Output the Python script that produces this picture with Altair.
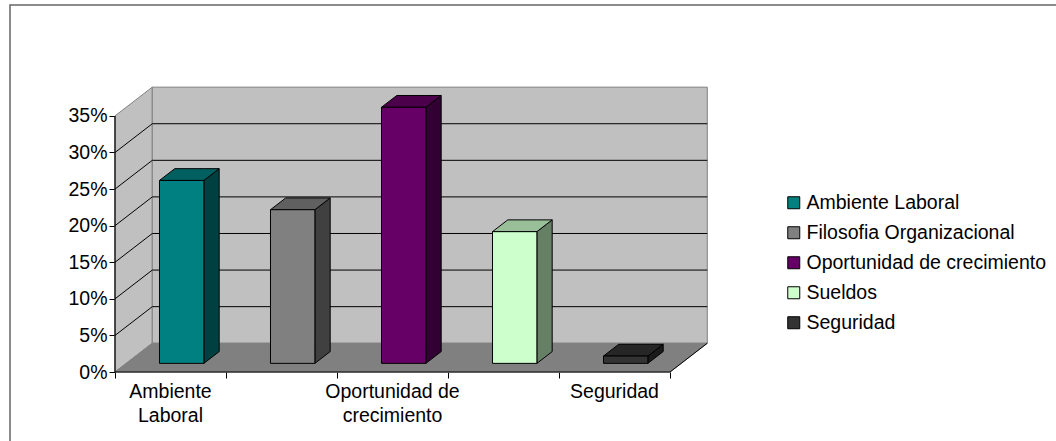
import altair as alt
import pandas as pd

# ---------------- data ----------------
categories = ["Ambiente Laboral", "Filosofia Organizacional",
              "Oportunidad de crecimiento", "Sueldos", "Seguridad"]
values = [25, 21, 35, 18, 1]
front_colors = ["#008080", "#808080", "#660066", "#CCFFCC", "#333333"]
top_colors = ["#006060", "#606060", "#4C004C", "#99BF99", "#262626"]
side_colors = ["#004040", "#404040", "#330033", "#668066", "#1A1A1A"]
tick_labels = ["Ambiente\nLaboral", "", "Oportunidad de\ncrecimiento", "", "Seguridad"]
y_ticks = [0, 5, 10, 15, 20, 25, 30, 35]

# ---------------- geometry / style ----------------
FONT = "Liberation Sans"
FS = 19.5
W, H = 593, 285
PX_PER_CAT = 111.0
PX_PER_PCT = 7.317
X_DOM = W / PX_PER_CAT
Y_DOM = H / PX_PER_PCT
DX = 0.336      # depth offset of the 3-D box (category units)
DY = 3.93       # depth offset of the 3-D box (percent units)
BW = 0.40       # bar width (category units)
T0, T1 = 0.30, 0.71   # bar front / back depth fraction
NCAT = len(categories)
YTOP = y_ticks[-1]

xs = alt.Scale(domain=[0, X_DOM], nice=False, zero=False)
ys = alt.Scale(domain=[0, Y_DOM], nice=False, zero=False)

y_axis = alt.Axis(values=y_ticks, labelExpr="datum.value + '%'", domain=False, grid=False,
                  ticks=True, tickSize=6, tickColor="black", tickWidth=1,
                  labelFontSize=FS, labelFont=FONT, labelColor="black", labelPadding=2,
                  labelOverlap=False, labelFlush=False, title=None)
x_axis = alt.Axis(values=list(range(NCAT + 1)), labels=False, domain=False, grid=False,
                  ticks=True, tickSize=6, tickColor="black", tickWidth=1, title=None)


def X(f):
    return alt.X(f, type="quantitative", scale=xs, axis=x_axis)


def Y(f):
    return alt.Y(f, type="quantitative", scale=ys, axis=y_axis)


# ---------------- derived tables ----------------
side_wall = pd.DataFrame({"pid": ["sw", "sw"], "x": [0, DX], "y": [0, DY],
                          "y2": [YTOP, YTOP + DY]})
floor = pd.DataFrame({"pid": ["fl"] * 4,
                      "x": [0, DX, NCAT, NCAT + DX],
                      "y": [0, 0, 0, DY],
                      "y2": [0, DY, DY, DY]})
back_wall = pd.DataFrame({"x": [DX], "x2": [NCAT + DX], "y": [DY], "y2": [YTOP + DY]})
grid_back = pd.DataFrame({"x": DX, "x2": NCAT + DX,
                          "y": [v + DY for v in y_ticks[1:-1]],
                          "y2": [v + DY for v in y_ticks[1:-1]]})
grid_side = pd.DataFrame({"x": 0.0, "x2": DX,
                          "y": [float(v) for v in y_ticks[1:-1]],
                          "y2": [v + DY for v in y_ticks[1:-1]]})

front_rows, top_rows, side_rows = [], [], []
ddx, ddy = (T1 - T0) * DX, (T1 - T0) * DY
for i, (c, v) in enumerate(zip(categories, values)):
    xl = i + 0.5 - BW / 2 + T0 * DX
    xr = xl + BW
    base = T0 * DY
    top = base + v
    front_rows.append({"cat": c, "x": xl, "x2": xr, "y": base, "y2": top})
    for xx, yy, yy2 in [(xl, top, top), (xl + ddx, top, top + ddy),
                        (xr, top, top + ddy), (xr + ddx, top + ddy, top + ddy)]:
        top_rows.append({"pid": f"t{i}", "fill": top_colors[i], "x": xx, "y": yy, "y2": yy2})
    for xx, yy, yy2 in [(xr, base, top), (xr + ddx, base + ddy, top + ddy)]:
        side_rows.append({"pid": f"s{i}", "fill": side_colors[i], "x": xx, "y": yy, "y2": yy2})
front_df = pd.DataFrame(front_rows)
top_df = pd.DataFrame(top_rows)
side_df = pd.DataFrame(side_rows)

label_df = pd.DataFrame({"x": [i + 0.5 for i in range(NCAT)], "y": 0.0,
                         "lab": tick_labels})
label_df = label_df[label_df["lab"] != ""]

axis_rules = pd.DataFrame({"x": [0.0, 0.0], "x2": [0.0, float(NCAT)],
                           "y": [0.0, 0.0], "y2": [float(YTOP), 0.0]})
floor_edge = pd.DataFrame({"x": [float(NCAT)], "x2": [NCAT + DX], "y": [0.0], "y2": [DY]})

# ---------------- layers ----------------
l_back = alt.Chart(back_wall).mark_rect(fill="#C0C0C0", stroke="#808080", strokeWidth=1).encode(
    x=X("x"), x2="x2", y=Y("y"), y2="y2")

l_side = alt.Chart(side_wall).mark_area(orient="vertical", fill="#C0C0C0", stroke="#808080",
                                        strokeWidth=1).encode(
    x=X("x"), y=Y("y"), y2="y2", detail="pid:N")

l_floor = alt.Chart(floor).mark_area(orient="vertical", fill="#808080", stroke="#808080",
                                     strokeWidth=1).encode(
    x=X("x"), y=Y("y"), y2="y2", detail="pid:N")

l_gb = alt.Chart(grid_back).mark_rule(color="black", strokeWidth=1).encode(
    x=X("x"), x2="x2", y=Y("y"), y2="y2")
l_gs = alt.Chart(grid_side).mark_rule(color="black", strokeWidth=1).encode(
    x=X("x"), x2="x2", y=Y("y"), y2="y2")

l_sidef = alt.Chart(side_df).mark_area(orient="vertical", stroke="black", strokeWidth=1,
                                       fillOpacity=1).encode(
    x=X("x"), y=Y("y"), y2="y2", detail="pid:N", fill=alt.Fill("fill:N", scale=None))
l_topf = alt.Chart(top_df).mark_area(orient="vertical", stroke="black", strokeWidth=1,
                                     fillOpacity=1).encode(
    x=X("x"), y=Y("y"), y2="y2", detail="pid:N", fill=alt.Fill("fill:N", scale=None))

legend = alt.Legend(title=None, orient="none", legendX=669, legendY=106, padding=0,
                    symbolType="square", symbolSize=144, symbolStrokeColor="black",
                    symbolStrokeWidth=1, symbolOpacity=1, labelFontSize=FS, labelFont=FONT,
                    labelColor="black", labelOffset=3, rowPadding=9, labelLimit=400)
l_front = alt.Chart(front_df).mark_rect(stroke="black", strokeWidth=1, opacity=1).encode(
    x=X("x"), x2="x2", y=Y("y"), y2="y2",
    color=alt.Color("cat:N", scale=alt.Scale(domain=categories, range=front_colors),
                    legend=legend))

l_axes = alt.Chart(axis_rules).mark_rule(color="black", strokeWidth=1.2).encode(
    x=X("x"), x2="x2", y=Y("y"), y2="y2")
l_fedge = alt.Chart(floor_edge).mark_rule(color="black", strokeWidth=1).encode(
    x=X("x"), x2="x2", y=Y("y"), y2="y2")

l_labels = alt.Chart(label_df).mark_text(lineBreak="\n", baseline="top", align="center",
                                         dy=11, fontSize=FS, font=FONT, lineHeight=24,
                                         color="black").encode(
    x=X("x"), y=Y("y"), text="lab:N")

frame_df = pd.DataFrame({"k": [0]})
l_frame = alt.Chart(frame_df).mark_rect(fillOpacity=0, stroke="#666666", strokeWidth=1.5).encode(
    x=alt.value(-105), x2=alt.value(1100), y=alt.value(-82), y2=alt.value(500))

chart = alt.layer(
    l_frame, l_side, l_back, l_floor, l_gb, l_gs, l_fedge,
    l_sidef, l_topf, l_front, l_axes, l_labels
).properties(
    width=W, height=H,
    padding={"left": 115, "top": 87, "right": 1056 - 115 - W, "bottom": 441 - 87 - H},
    autosize=alt.AutoSizeParams(type="none"),
    background="white",
).configure_view(stroke=None)

chart.save("out.html", embed_options={"renderer": "svg", "actions": False})
